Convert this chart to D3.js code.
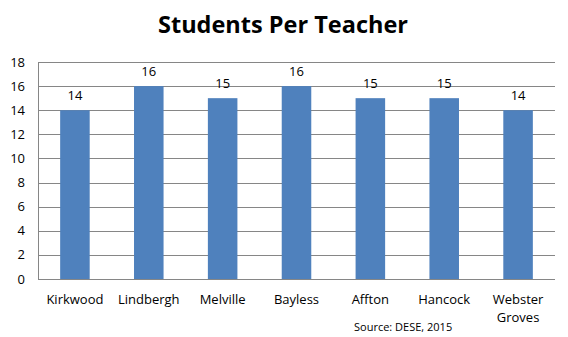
<!DOCTYPE html>
<html>
<head>
<meta charset="utf-8">
<script src="https://cdn.jsdelivr.net/npm/d3@7"></script>
<style>
  body { margin: 0; background: #fff; }
  text { font-family: "Open Sans", "Noto Sans", sans-serif; fill: #000; }
</style>
</head>
<body>
<div id="chart"></div>
<script>
const schools = ["Kirkwood", "Lindbergh", "Melville", "Bayless", "Affton", "Hancock", "Webster Groves"];
const ratios = [14, 16, 15, 16, 15, 15, 14];
const yTicks = [0, 2, 4, 6, 8, 10, 12, 14, 16, 18];

const width = 568, height = 337;
const margin = { top: 62, right: 13, bottom: 58, left: 38 };
const w = width - margin.left - margin.right;
const h = height - margin.top - margin.bottom;

const svg = d3.select("#chart").append("svg")
  .attr("width", width)
  .attr("height", height);

svg.append("text")
  .attr("x", 283)
  .attr("y", 33)
  .attr("text-anchor", "middle")
  .style("font-size", "23.5px")
  .style("font-weight", "bold")
  .text("Students Per Teacher");

const g = svg.append("g")
  .attr("transform", `translate(${margin.left},${margin.top})`);

const x = d3.scaleBand().domain(schools).range([0, w]).paddingInner(0.6).paddingOuter(0.3);
const y = d3.scaleLinear().domain([0, 18]).range([h, 0]);

// gridlines
g.selectAll(".grid")
  .data(yTicks)
  .enter().append("line")
  .attr("x1", 0).attr("x2", w)
  .attr("y1", d => Math.round(y(d)) + 0.5)
  .attr("y2", d => Math.round(y(d)) + 0.5)
  .attr("stroke", "#868686");

g.append("line")
  .attr("x1", 0.5).attr("x2", 0.5)
  .attr("y1", 0).attr("y2", h)
  .attr("stroke", "#868686");

// y labels
g.selectAll(".ylab")
  .data(yTicks)
  .enter().append("text")
  .attr("x", -13)
  .attr("y", d => y(d))
  .attr("dy", "0.35em")
  .attr("text-anchor", "end")
  .style("font-size", "13px")
  .text(d => d);

// bars
g.selectAll(".bar")
  .data(ratios)
  .enter().append("rect")
  .attr("x", (d, i) => x(schools[i]))
  .attr("width", x.bandwidth())
  .attr("y", d => y(d))
  .attr("height", d => h - y(d))
  .attr("fill", "#4F81BD");

// value labels
g.selectAll(".val")
  .data(ratios)
  .enter().append("text")
  .attr("x", (d, i) => x(schools[i]) + x.bandwidth() / 2)
  .attr("y", d => y(d) - 10)
  .attr("text-anchor", "middle")
  .style("font-size", "13px")
  .text(d => d);

// category labels
g.selectAll(".xlab")
  .data(schools)
  .enter().append("text")
  .attr("x", d => x(d) + x.bandwidth() / 2)
  .attr("y", h + 25)
  .attr("text-anchor", "middle")
  .style("font-size", "13px")
  .each(function(d) {
    const words = d.split(" ");
    d3.select(this).selectAll("tspan")
      .data(words)
      .enter().append("tspan")
      .attr("x", x(d) + x.bandwidth() / 2)
      .attr("dy", (t, i) => i === 0 ? 0 : 18)
      .text(t => t);
  });

svg.append("text")
  .attr("x", 354)
  .attr("y", 331)
  .style("font-size", "11px")
  .text("Source: DESE, 2015");
</script>
</body>
</html>
